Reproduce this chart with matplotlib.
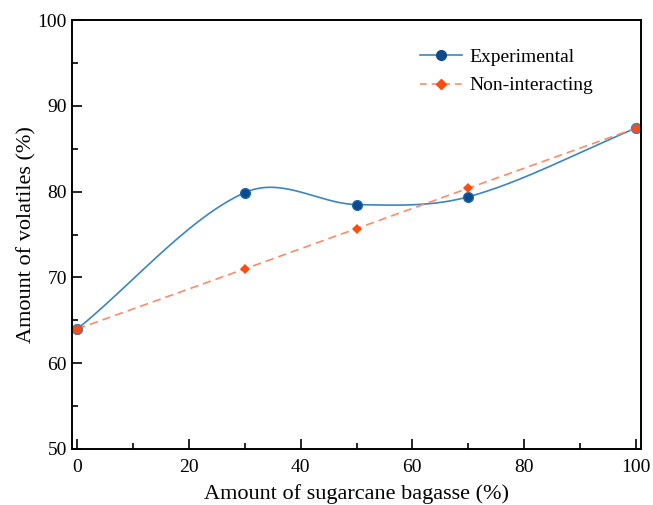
import numpy as np
import matplotlib.pyplot as plt
from matplotlib.ticker import MultipleLocator

# bagasse fraction in the blend (%)
bagasse = [0, 30, 50, 70, 100]
# measured volatiles (%)
experimental = [64.0, 79.9, 78.5, 79.4, 87.4]
# additive (non-interacting) prediction (%)
non_interacting = [64.0, 71.0, 75.7, 80.4, 87.4]


def hermite_curve(x, y, per_seg=80):
    # Catmull-Rom style cubic Hermite curve through the points
    x = np.asarray(x, float)
    y = np.asarray(y, float)
    m = np.empty_like(y)
    m[1:-1] = (y[2:] - y[:-2]) / (x[2:] - x[:-2])
    m[0] = (y[1] - y[0]) / (x[1] - x[0])
    m[-1] = (y[-1] - y[-2]) / (x[-1] - x[-2])
    cx, cy = [], []
    for i in range(len(x) - 1):
        h = x[i + 1] - x[i]
        t = np.linspace(0, 1, per_seg)
        h00 = 2 * t**3 - 3 * t**2 + 1
        h10 = t**3 - 2 * t**2 + t
        h01 = -2 * t**3 + 3 * t**2
        h11 = t**3 - t**2
        cx.append(x[i] + h * t)
        cy.append(h00 * y[i] + h10 * h * m[i] + h01 * y[i + 1] + h11 * h * m[i + 1])
    return np.concatenate(cx), np.concatenate(cy)


plt.rcParams['font.family'] = ['Liberation Serif', 'DejaVu Serif']
plt.rcParams['font.size'] = 14

fig = plt.figure(figsize=(6.53, 5.05), dpi=100)
ax = fig.add_axes([0.110, 0.111, 0.872, 0.849])

cx, cy = hermite_curve(bagasse, experimental)
ax.plot(cx, cy, '-', color='#3b86c2', lw=1.2)
ax.plot(bagasse, experimental, 'o', color='#0b4a8b', ms=7, mec='#1f66b0')
ax.plot(bagasse, non_interacting, '--', color='#ff8a6a', lw=1.2, dashes=(5, 3))
ax.plot(bagasse[1:-1], non_interacting[1:-1], 'D', color='#ff4a10', ms=5.5, mew=0)
# shared end points
ax.plot([bagasse[0], bagasse[-1]], [non_interacting[0], non_interacting[-1]], 'o',
        color='#ff4a10', ms=7, mec='#3b86c2', mew=0.8)

# legend handles
ax.plot([], [], '-o', color='#3b86c2', mfc='#0b4a8b', mec='#0b4a8b', ms=7, lw=1.2,
        label='Experimental')
ax.plot([], [], '--D', color='#ff8a6a', mfc='#ff4a10', mec='#ff4a10', ms=5.5, lw=1.2,
        dashes=(4, 3), label='Non-interacting')
handles, labels = ax.get_legend_handles_labels()
ax.legend(handles, labels, loc='upper left', bbox_to_anchor=(0.58, 0.975), frameon=False,
          fontsize=14, handlelength=2.2, handletextpad=0.35, labelspacing=0.55)

ax.set_xlim(-1, 101)
ax.set_ylim(50, 100)
ax.xaxis.set_major_locator(MultipleLocator(20))
ax.xaxis.set_minor_locator(MultipleLocator(10))
ax.yaxis.set_major_locator(MultipleLocator(10))
ax.yaxis.set_minor_locator(MultipleLocator(5))
ax.tick_params(which='both', direction='in', width=1.2)
ax.tick_params(which='major', length=7)
ax.tick_params(which='minor', length=4)
ax.tick_params(axis='x', which='major', pad=7)
for s in ax.spines.values():
    s.set_linewidth(1.4)

ax.set_xlabel('Amount of sugarcane bagasse (%)', fontsize=16, labelpad=6)
ax.set_ylabel('Amount of volatiles (%)', fontsize=16, labelpad=1)

fig.savefig('out.png', dpi=100)
